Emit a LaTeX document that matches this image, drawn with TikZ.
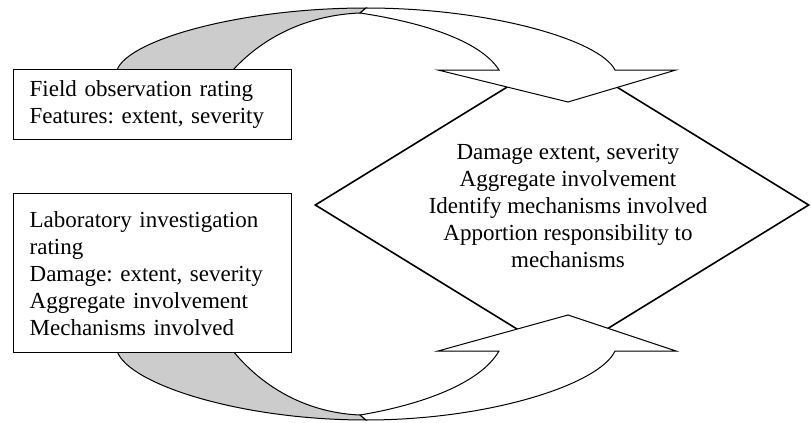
\documentclass[tikz,border=0pt]{standalone}
\usepackage{fontspec}
\setmainfont{Liberation Serif}
\usetikzlibrary{shapes.geometric}
\definecolor{ribbongray}{RGB}{204,204,204}
\frenchspacing

\begin{document}
\begin{tikzpicture}[x=0.5pt,y=-0.5pt,font=\fontsize{11.5}{13.5}\selectfont,
  ratingbox/.style={draw,line width=0.65pt,fill=white,anchor=north west,
    minimum width=139pt,text width=123pt,inner xsep=8pt,align=left},
  ribbonback/.style={draw,line width=0.5pt,fill=ribbongray},
  ribbonfront/.style={draw,line width=0.5pt,fill=white}]
\useasboundingbox (0,0) rectangle (811,423);
% diamond goes first, the arrows cover its corners
\node[diamond,draw,line width=0.8pt,minimum width=247pt,minimum height=152pt,inner sep=0pt] (assess) at (562,205) {};
\node[align=center] (assesstext) at (568,206) {Damage extent, severity\\Aggregate involvement\\Identify mechanisms involved\\Apportion responsibility to\\mechanisms};
% top curved arrow
\filldraw[ribbonback] (117,70) .. controls (128,40) and (240,8) .. (366,8) -- (360,13)
  .. controls (310,15) and (265,35) .. (233,70) -- cycle;
\filldraw[ribbonfront] (360,13) -- (366,8) .. controls (490,8) and (600,40) .. (615,70)
  -- (676,70) -- (568,102) -- (438,70) -- (499,70)
  .. controls (480,40) and (420,22) .. (360,13) -- cycle;
% bottom curved arrow
\filldraw[ribbonback] (117,351) .. controls (128,384) and (240,420) .. (366,420) -- (360,415)
  .. controls (310,413) and (265,390) .. (233,351) -- cycle;
\filldraw[ribbonfront] (360,415) -- (366,420) .. controls (490,420) and (600,384) .. (615,351)
  -- (676,351) -- (568,315) -- (438,351) -- (499,351)
  .. controls (480,384) and (420,405) .. (360,415) -- cycle;
% rating boxes
\node[ratingbox,minimum height=35pt] (field) at (13,69) {Field observation rating\\Features: extent, severity};
\node[ratingbox,minimum height=79.5pt] (lab) at (13,193) {Laboratory investigation\\rating\\Damage: extent, severity\\Aggregate involvement\\Mechanisms involved};
\end{tikzpicture}
\end{document}
